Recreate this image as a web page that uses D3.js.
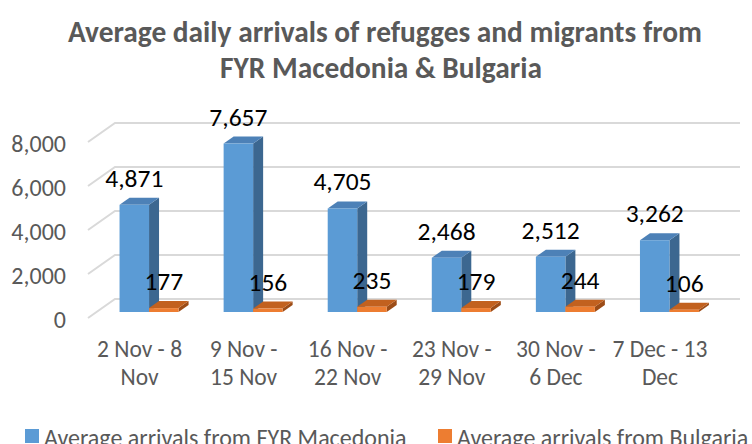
<!DOCTYPE html>
<html>
<head>
<meta charset="utf-8">
<script src="https://cdn.jsdelivr.net/npm/d3@7"></script>
<style>
  body { margin: 0; background: #fff; }
  text { font-family: Carlito, Lato, sans-serif; }
</style>
</head>
<body>
<div id="app"></div>
<script>
// data
const categories = ['2 Nov - 8 Nov', '9 Nov - 15 Nov', '16 Nov - 22 Nov', '23 Nov - 29 Nov', '30 Nov - 6 Dec', '7 Dec - 13 Dec']
const catLines = [['2 Nov - 8', 'Nov'], ['9 Nov -', '15 Nov'], ['16 Nov -', '22 Nov'], ['23 Nov -', '29 Nov'], ['30 Nov -', '6 Dec'], ['7 Dec - 13', 'Dec']]
const series = ['Average arrivals from FYR Macedonia', 'Average arrivals from Bulgaria']
const macedonia = [4871, 7657, 4705, 2468, 2512, 3262]
const bulgaria = [177, 156, 235, 179, 244, 106]
const yTicks = [0, 2000, 4000, 6000, 8000]

const W = 752, H = 444
const svg = d3.select('#app').append('svg').attr('width', W).attr('height', H)

const grey = '#595959'
const fills = [
  { front: '#5b9bd5', top: '#4d81b7', side: '#3c6790' },
  { front: '#ed7d31', top: '#c2611f', side: '#9c4c17' }
]

// 3d offsets: floor depth and bar depth
const floorDx = 27, floorDy = 19
const barDx = 10, barDy = 7

const x = d3.scaleBand().domain(categories).range([87.5, 712])
const x1 = d3.scaleBand().domain(series).range([-20, 39])
const y = d3.scaleLinear().domain([0, 8000]).range([312, 136])
const yWall = d3.scaleLinear().domain([0, 8000]).range([299, 123])
const fmt = d3.format(',')

// title
svg.append('g').selectAll('text')
  .data(['Average daily arrivals of refugges and migrants from', 'FYR Macedonia & Bulgaria'])
  .enter().append('text')
  .attr('x', (d, i) => i ? 381 : 385).attr('y', (d, i) => 42 + i * 36)
  .attr('text-anchor', 'middle')
  .attr('font-size', 29.4).attr('font-weight', 'bold').attr('fill', grey)
  .text(d => d)

// gridlines on back wall + left side
const grid = svg.append('g')
const wallL = 115, wallR = 740
yTicks.forEach(v => {
  grid.append('path')
    .attr('d', `M${wallL - floorDx},${yWall(v) + floorDy}L${wallL},${yWall(v)}L${wallR},${yWall(v)}`)
    .attr('fill', 'none').attr('stroke', '#d9d9d9').attr('stroke-width', 2)
})

svg.append('g').selectAll('text').data(yTicks).enter().append('text')
  .attr('x', 66).attr('y', d => yWall(d) + floorDy + 2)
  .attr('dy', '0.35em').attr('text-anchor', 'end')
  .attr('font-size', 24).attr('fill', grey)
  .text(d => fmt(d))

// bars
const rows = []
categories.forEach((c, i) => {
  [macedonia[i], bulgaria[i]].forEach((v, s) => rows.push({ cat: c, s: s, value: v }))
})

const bars = svg.append('g').selectAll('g.bar').data(rows).enter().append('g').attr('class', 'bar')

bars.each(function (d) {
  const g = d3.select(this)
  const x0 = x(d.cat) + x.bandwidth() / 2 + x1(series[d.s])
  const w = x1.bandwidth()
  const yt = y(d.value), yb = y(0)
  const c = fills[d.s]
  g.append('polygon')
    .attr('points', [[x0 + w, yt], [x0 + w + barDx, yt - barDy], [x0 + w + barDx, yb - barDy], [x0 + w, yb]].join(' '))
    .attr('fill', c.side)
  g.append('polygon')
    .attr('points', [[x0, yt], [x0 + barDx, yt - barDy], [x0 + w + barDx, yt - barDy], [x0 + w, yt]].join(' '))
    .attr('fill', c.top)
  g.append('rect')
    .attr('x', x0).attr('y', yt).attr('width', w).attr('height', yb - yt)
    .attr('fill', c.front)
})

// data labels
svg.append('g').selectAll('text').data(rows).enter().append('text')
  .attr('x', d => x(d.cat) + x.bandwidth() / 2 + x1(series[d.s]) + x1.bandwidth() / 2)
  .attr('y', d => y(d.value) - 18)
  .attr('text-anchor', 'middle')
  .attr('font-size', 25.5).attr('fill', '#000')
  .text(d => fmt(d.value))

// category labels
const cl = svg.append('g').selectAll('text').data(categories).enter().append('text')
  .attr('text-anchor', 'middle').attr('font-size', 23.5).attr('fill', grey)
cl.selectAll('tspan').data((d, i) => catLines[i]).enter().append('tspan')
  .attr('x', function () { const c = d3.select(this.parentNode).datum(); return x(c) + x.bandwidth() / 2 })
  .attr('y', (d, i) => 357 + i * 28)
  .text(d => d)

// legend
const legX = [25, 438]
const leg = svg.append('g').selectAll('g').data(series).enter().append('g')
  .attr('transform', (d, i) => `translate(${legX[i]},0)`)
leg.append('rect').attr('x', 0).attr('y', 429).attr('width', 14).attr('height', 14)
  .attr('fill', (d, i) => fills[i].front)
leg.append('text').attr('x', 19).attr('y', 446)
  .attr('font-size', 24).attr('fill', grey)
  .text(d => d)
</script>
</body>
</html>
